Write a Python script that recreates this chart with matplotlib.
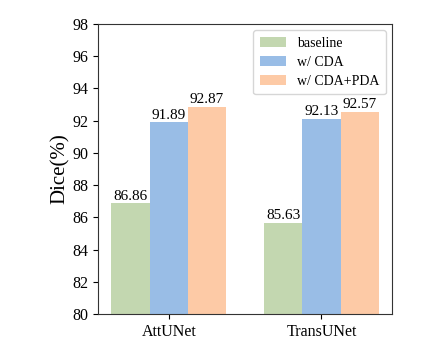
import numpy as np
import matplotlib.pyplot as plt

plt.rcParams['font.family'] = ['Liberation Serif', 'DejaVu Serif']

# data
models = ['AttUNet', 'TransUNet']
series = ['baseline', 'w/ CDA', 'w/ CDA+PDA']
baseline = [86.86, 85.63]
cda = [91.89, 92.13]
cda_pda = [92.87, 92.57]
colors = ['#c3d7b0', '#99bde6', '#fdcaa6']

ind = np.arange(len(models))
width = 0.25

fig, ax = plt.subplots(figsize=(4.42, 3.39), dpi=100)
fig.subplots_adjust(left=0.222, right=0.887, top=0.929, bottom=0.074)

vals = [baseline, cda, cda_pda]
for k, (v, name, c) in enumerate(zip(vals, series, colors)):
    pos = ind + (k - 1) * width
    ax.bar(pos, v, width, color=c, label=name)
    for x, y in zip(pos, v):
        ax.text(x, y + 0.05, '{:.2f}'.format(y), ha='center', va='bottom', fontsize=11)

ax.set_ylim(80, 98)
ax.set_yticks(np.arange(80, 99, 2))
ax.set_xticks(ind)
ax.set_xticklabels(models)
ax.set_ylabel('Dice(%)', fontsize=15, labelpad=2)
ax.tick_params(axis='both', labelsize=11.5)

for s in ax.spines.values():
    s.set_color('#333333')

ax.legend(loc='upper right', fontsize=10, handlelength=1.9, handleheight=0.7,
          borderpad=0.45, labelspacing=0.45, handletextpad=0.8, borderaxespad=0.45)

plt.savefig('out.png', dpi=100)
